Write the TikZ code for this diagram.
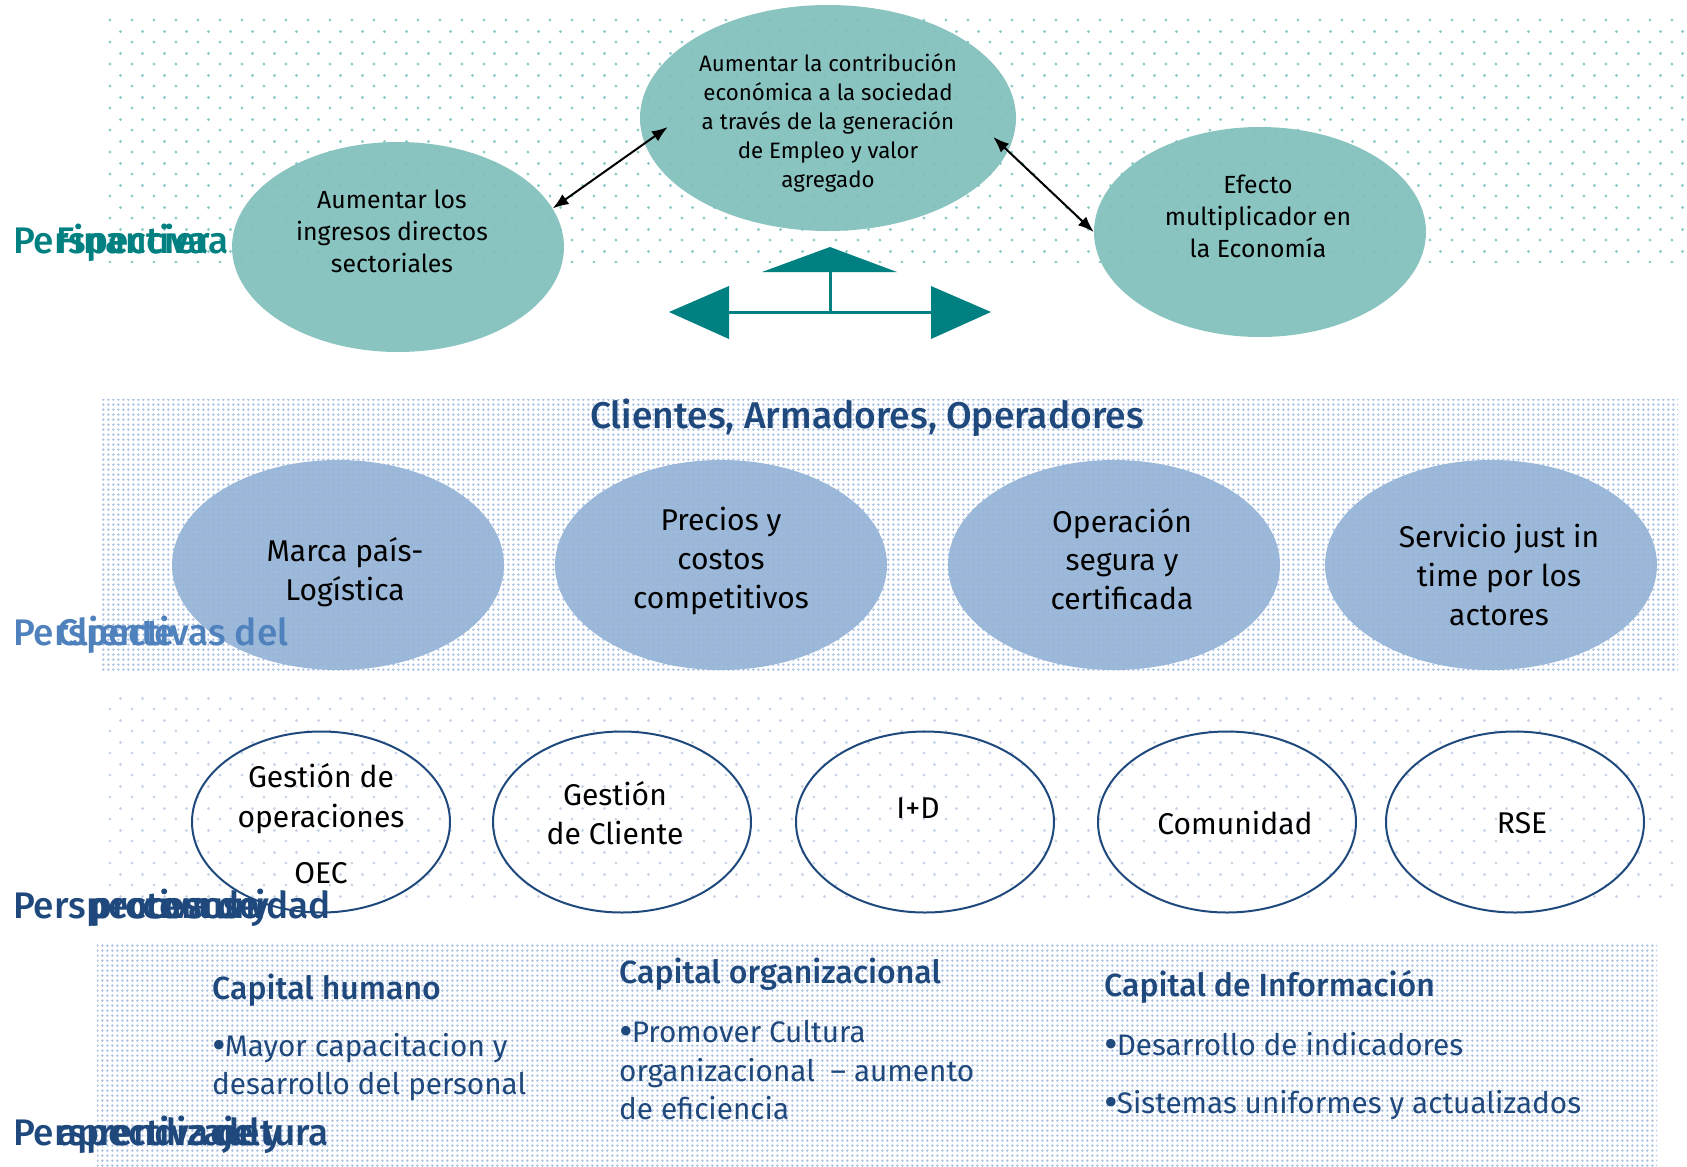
\documentclass[tikz,border=0pt]{standalone}
\usepackage{fontspec}
\setmainfont{Fira Sans}
\newfontfamily\firamed{Fira Sans Medium}
\usetikzlibrary{patterns.meta,arrows.meta,shapes.geometric}
\definecolor{tealdark}{HTML}{008080}
\definecolor{tealfill}{HTML}{80BFBC}
\definecolor{tealdot}{HTML}{8CCBC8}
\definecolor{bluefill}{HTML}{95B3D7}
\definecolor{bluedot}{HTML}{ABC2E4}
\definecolor{graydot}{HTML}{C8D4E8}
\definecolor{navy}{HTML}{1F497D}
\definecolor{midblue}{HTML}{4F81BD}
\tikzdeclarepattern{name=sparsedots,
  bounding box={(0pt,0pt) and (21.5pt,21.5pt)},
  tile size={(21.5pt,21.5pt)},
  code={\fill (2pt,2pt) circle (1.6pt); \fill (12.75pt,12.75pt) circle (1.6pt);}}
\tikzdeclarepattern{name=densedots,
  bounding box={(0pt,0pt) and (5.33pt,5.33pt)},
  tile size={(5.33pt,5.33pt)},
  code={\fill (2.66pt,2.66pt) circle (1.45pt);}}
\newcommand\bigbul{\raisebox{-3.5pt}{\fontsize{42}{42}\selectfont•}\kern-1pt}
\tikzset{
  tealell/.style={ellipse, fill=tealfill, fill opacity=0.92, inner sep=0pt, minimum width=332, minimum height=210},
  blueell/.style={ellipse, fill=bluefill, fill opacity=0.92, inner sep=0pt, minimum width=332, minimum height=210},
  whiteell/.style={ellipse, draw=navy, line width=2pt, inner sep=0pt, minimum width=258, minimum height=181},
  toptxt/.style={align=center, inner sep=0pt, text=black, font=\fontsize{22.3}{29}\selectfont},
  toptxtb/.style={align=center, inner sep=0pt, text=black, font=\fontsize{24.8}{32}\selectfont},
  bluetxt/.style={align=center, inner sep=0pt, text=black, font=\fontsize{30}{38.7}\selectfont},
  whitetxt/.style={align=center, inner sep=0pt, text=black, font=\fontsize{30}{40}\selectfont},
  dbl/.style={{Latex[length=16pt,width=12pt]}-{Latex[length=16pt,width=12pt]}, line width=2pt, black},
  lab/.style={anchor=base west, inner sep=0pt, font=\fontsize{37}{40}\selectfont\firamed},
  labe/.style={lab, anchor=base east},
  head/.style={anchor=west, inner sep=0pt, text=navy, font=\fontsize{32}{36}\selectfont\firamed},
  body/.style={anchor=north west, align=left, inner sep=0pt, text=navy, font=\fontsize{29.7}{38.6}\selectfont},
}
\begin{document}
\begin{tikzpicture}[x=1pt,y=-1pt]
\useasboundingbox (0,0) rectangle (1687,1167);
% background bands
\fill[pattern={sparsedots}, pattern color=tealdot] (105,18) rectangle (1687,262);
\fill[pattern={densedots}, pattern color=bluedot] (102,399) rectangle (1678,670);
\fill[pattern={sparsedots}, pattern color=graydot] (102,694) rectangle (1678,898);
\fill[pattern={densedots}, pattern color=bluedot] (97,944) rectangle (1657,1167);

% financial perspective
\node[tealell, minimum width=376, minimum height=226] (fc) at (828,118) {};
\node[tealell] (fl) at (398,247) {};
\node[tealell] (fr) at (1260,232) {};
\node[toptxt] (fct) at (828,123) {Aumentar la contribución\\económica a la sociedad\\a través de la generación\\de Empleo y valor\\agregado};
\node[toptxtb] (flt) at (392,231) {Aumentar los\\ingresos directos\\sectoriales};
\node[toptxtb] (frt) at (1258,216) {Efecto\\multiplicador en\\la Economía};
\draw[dbl] (fl.14) -- ([shift={(28,9)}]fc.west);
\draw[dbl] ([shift={(-23,19)}]fc.east) -- (fr.west);

% teal arrow shape
\fill[tealdark] (830,247) -- (897,272) -- (762,272) -- cycle;
\draw[tealdark, line width=3pt] (830,272) -- (830,312);
\draw[tealdark, line width=3pt] (728,312) -- (932,312);
\fill[tealdark] (669,312) -- (729,286) -- (729,339) -- cycle;
\fill[tealdark] (991,312) -- (931,286) -- (931,339) -- cycle;

% customers
\node[text=navy, inner sep=0pt, font=\fontsize{37.2}{40}\selectfont\firamed] (ttl) at (867,418) {Clientes, Armadores, Operadores};
\node[blueell] (c1) at (338,565) {};
\node[blueell] (c2) at (721,565) {};
\node[blueell] (c3) at (1114,565) {};
\node[blueell] (c4) at (1491,565) {};
\node[bluetxt] (c1t) at (345,572) {Marca país-\\Logística};
\node[bluetxt] (c2t) at (721,561) {Precios y\\costos\\competitivos};
\node[bluetxt] (c3t) at (1122,559) {Operación\\segura y\\certificada};
\node[bluetxt] (c4t) at (1499,575) {Servicio just in\\time por los\\actores};

% processes
\node[whiteell] (p1) at (321,822) {};
\node[whiteell] (p2) at (622,822) {};
\node[whiteell] (p3) at (925,822) {};
\node[whiteell] (p4) at (1227,822) {};
\node[whiteell] (p5) at (1515,822) {};
\node[whitetxt] (p1t) at (321,799) {Gestión de\\operaciones};
\node[whitetxt] (p1o) at (321,873) {OEC};
\node[whitetxt, font=\fontsize{30}{39}\selectfont] (p2t) at (615,813) {Gestión\\de Cliente};
\node[whitetxt] (p3t) at (918,808) {I+D};
\node[whitetxt] (p4t) at (1235,823) {Comunidad};
\node[whitetxt] (p5t) at (1522,823) {RSE};

% learning
\node[head] (h1) at (212,990) {Capital humano};
\node[body] (b1) at (212,1033) {\bigbul Mayor capacitacion y\\desarrollo del personal};
\node[head] (h2) at (619,974) {Capital organizacional};
\node[body] (b2) at (619,1020) {\bigbul Promover Cultura\\organizacional~ – aumento\\de eficiencia};
\node[head] (h3) at (1104,987) {Capital de Información};
\node[body] (b3) at (1104,1032) {\bigbul Desarrollo de indicadores};
\node[body] (b4) at (1104,1090) {\bigbul Sistemas uniformes y actualizados};

% side labels (overlapping lines)
\node[lab, text=tealdark] (l1a) at (13,253) {Perspectiva};
\node[labe, text=tealdark] (l1b) at (229,253) {Financiera};
\node[lab, text=midblue] (l2a) at (13,645) {Perspectivas del};
\node[lab, text=midblue] (l2b) at (57,645) {Cliente};
\node[lab, text=navy] (l3a) at (13,918) {Perspectiva de};
\node[lab, text=navy] (l3b) at (90,918) {procesos y};
\node[labe, text=navy] (l3c) at (331,918) {comunidad};
\node[lab, text=navy] (l4a) at (13,1145) {Perspectiva de};
\node[lab, text=navy] (l4b) at (57,1145) {aprendizaje y};
\node[labe, text=navy] (l4c) at (329,1145) {cultura};
\end{tikzpicture}
\end{document}
